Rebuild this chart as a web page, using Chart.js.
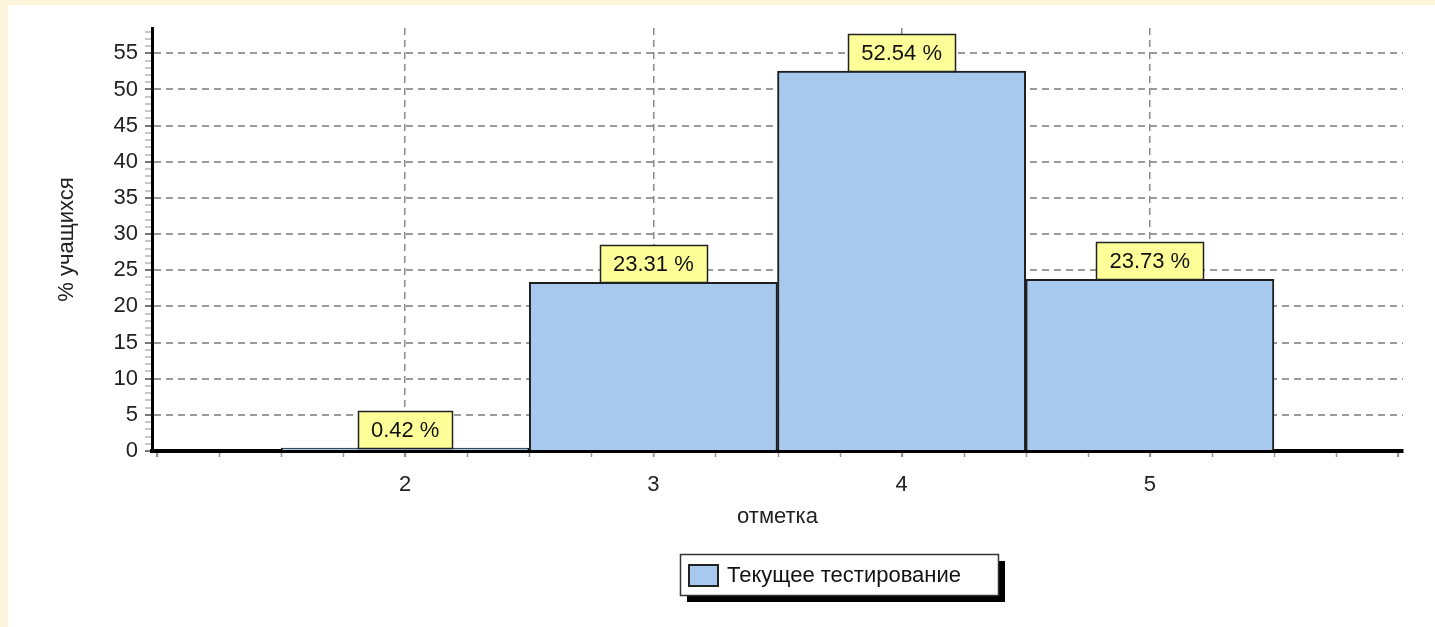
<!DOCTYPE html>
<html>
<head>
<meta charset="utf-8">
<script src="https://cdn.jsdelivr.net/npm/chart.js@4/dist/chart.umd.min.js"></script>
<style>
  html, body { margin: 0; padding: 0; background: #fff5dc; }
  #wrap { position: absolute; left: 8px; top: 5px; width: 1427px; height: 622px; background: #fff; }
</style>
</head>
<body>
<div id="wrap"><canvas id="gradeChart" width="1427" height="622"></canvas></div>
<script>
//============ Data ============//
var marks = [2, 3, 4, 5];
var percentValues = [0.42, 23.31, 52.54, 23.73];
var yTickLabels = [0, 5, 10, 15, 20, 25, 30, 35, 40, 45, 50, 55];
var seriesName = 'Текущее тестирование';
var xTitle = 'отметка';
var yTitle = '% учащихся';

var fontFamily = '"Liberation Sans", Arial, sans-serif';
Chart.defaults.font.family = fontFamily;
Chart.defaults.color = '#222';

// yellow value boxes sitting on top of each bar
var valueBoxes = {
  id: 'valueBoxes',
  afterDatasetsDraw: function(chart) {
    var ctx = chart.ctx;
    var meta = chart.getDatasetMeta(0);
    ctx.save();
    ctx.font = '22px ' + fontFamily;
    ctx.textAlign = 'center';
    ctx.textBaseline = 'middle';
    meta.data.forEach(function(bar, i) {
      var text = percentValues[i].toFixed(2) + ' %';
      var w = Math.round(ctx.measureText(text).width + 26);
      var h = 37;
      var left = Math.round(bar.x - w / 2);
      var top = Math.round(bar.y - h);
      ctx.fillStyle = '#ffff99';
      ctx.fillRect(left, top, w, h);
      ctx.strokeStyle = '#222';
      ctx.lineWidth = 1.5;
      ctx.strokeRect(left + 0.5, top + 0.5, w, h);
      ctx.fillStyle = '#111';
      ctx.fillText(text, bar.x, top + h / 2 + 1);
    });
    ctx.restore();
  }
};

// small minor ticks under the x axis (quarter steps)
var minorTicks = {
  id: 'minorTicks',
  afterDraw: function(chart) {
    var ctx = chart.ctx;
    var xs = chart.scales.x;
    var base = chart.chartArea.bottom;
    ctx.save();
    ctx.strokeStyle = '#999';
    ctx.lineWidth = 1.5;
    ctx.beginPath();
    for (var v = 1; v <= 6; v += 0.25) {
      var px = Math.round(xs.getPixelForValue(v)) + 0.5;
      ctx.moveTo(px, base + 2);
      ctx.lineTo(px, base + 6);
    }
    ctx.stroke();
    ctx.restore();
  }
};

// framed legend with drop shadow
var boxLegend = {
  id: 'boxLegend',
  afterDraw: function(chart, args, opts) {
    var ctx = chart.ctx;
    var ds = chart.data.datasets[0];
    var x = opts.x, y = opts.y, w = opts.w, h = opts.h;
    ctx.save();
    ctx.fillStyle = '#000';
    ctx.fillRect(x + 7, y + 7, w, h);
    ctx.fillStyle = '#fff';
    ctx.fillRect(x, y, w, h);
    ctx.strokeStyle = '#333';
    ctx.lineWidth = 1.5;
    ctx.strokeRect(x + 0.5, y + 0.5, w, h);
    ctx.fillStyle = ds.backgroundColor;
    ctx.fillRect(x + 9, y + 11, 29, 21);
    ctx.lineWidth = 2;
    ctx.strokeStyle = '#222';
    ctx.strokeRect(x + 9, y + 11, 29, 21);
    ctx.fillStyle = '#111';
    ctx.font = '22px ' + fontFamily;
    ctx.textBaseline = 'middle';
    ctx.fillText(ds.label, x + 47, y + h / 2 + 1);
    ctx.restore();
  }
};

var ctx = document.getElementById('gradeChart').getContext('2d');
var gradeChart = new Chart(ctx, {
  type: 'bar',
  data: {
    datasets: [{
      label: seriesName,
      data: marks.map(function(m, i) { return { x: m, y: percentValues[i] }; }),
      backgroundColor: '#a7c9ee',
      borderColor: '#1e1e1e',
      borderWidth: 2,
      barPercentage: 1,
      categoryPercentage: 1
    }]
  },
  options: {
    responsive: false,
    animation: false,
    layout: { padding: { left: 0, top: 23, right: 32, bottom: 96 } },
    plugins: {
      legend: { display: false },
      tooltip: { enabled: false },
      boxLegend: { x: 672, y: 549, w: 318, h: 41 }
    },
    scales: {
      x: {
        type: 'linear',
        offset: false,
        min: 0.98,
        max: 6.02,
        ticks: {
          stepSize: 1,
          includeBounds: false,
          autoSkip: false,
          maxRotation: 0,
          padding: 15,
          font: { size: 22 },
          callback: function(v) { return marks.indexOf(v) > -1 ? String(v) : ''; }
        },
        grid: {
          offset: false,
          color: function(c) { return marks.indexOf(c.tick && c.tick.value) > -1 ? '#8a8a8a' : 'rgba(0,0,0,0)'; },
          lineWidth: 1.5,
          tickLength: 6,
          tickColor: '#888'
        },
        border: { color: '#000', width: 4, dash: [7, 5] },
        title: { display: true, text: xTitle, font: { size: 22 }, padding: { top: 0, bottom: 1 } },
        afterFit: function(s) { s.height = 80; }
      },
      y: {
        min: 0,
        max: 58.5,
        ticks: {
          stepSize: 1,
          includeBounds: false,
          autoSkip: false,
          padding: 7,
          font: { size: 22 },
          callback: function(v) { return yTickLabels.indexOf(v) > -1 ? String(v) : ''; }
        },
        grid: {
          color: function(c) {
            var v = c.tick && c.tick.value;
            return (v > 0 && yTickLabels.indexOf(v) > -1) ? '#9a9a9a' : 'rgba(0,0,0,0)';
          },
          lineWidth: 2,
          tickLength: 7,
          tickColor: function(c) {
            var v = c.tick && c.tick.value;
            return yTickLabels.indexOf(v) > -1 ? '#777' : '#c8c8c8';
          }
        },
        border: { color: '#000', width: 3, dash: [7, 5] },
        title: { display: true, text: yTitle, font: { size: 22 }, padding: { top: 46, bottom: 0 } },
        afterFit: function(s) { s.width = 144; }
      }
    }
  },
  plugins: [valueBoxes, minorTicks, boxLegend]
});
</script>
</body>
</html>
